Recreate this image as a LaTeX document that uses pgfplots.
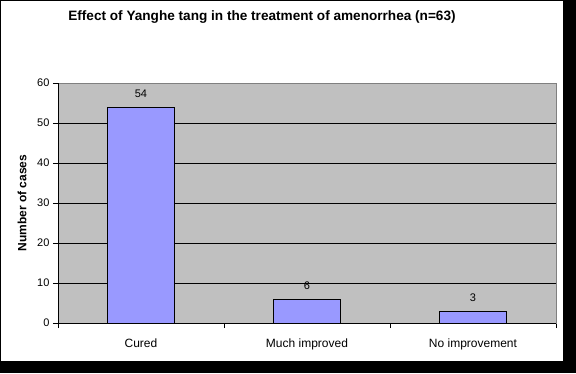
\documentclass[border=0pt]{standalone}
\usepackage{fontspec}
\setmainfont{Liberation Sans}
\usepackage{pgfplots}
\pgfplotsset{compat=1.18}
\definecolor{plotgray}{RGB}{192,192,192}
\definecolor{framegray}{RGB}{128,128,128}
\definecolor{barblue}{RGB}{153,153,255}
\begin{document}
\begin{tikzpicture}
\fill[black] (0pt,0pt) rectangle (576pt,373pt);
\fill[white] (1pt,12pt) rectangle (563pt,372pt);
\path[use as bounding box] (0pt,0pt) rectangle (576pt,373pt);
\node[font=\fontsize{13.6}{16}\selectfont\bfseries] at (262pt,356pt) {Effect of Yanghe tang in the treatment of amenorrhea (n=63)};
\begin{axis}[
  at={(58pt,50pt)}, anchor=south west, scale only axis,
  width=498pt, height=240pt,
  xmin=-0.5, xmax=2.5, ymin=0, ymax=60,
  axis background/.style={fill=plotgray},
  axis line style={draw=framegray, line width=0.8pt},
  ytick={0,10,20,30,40,50,60},
  ymajorgrids, major grid style={black, line width=0.8pt},
  xtick={0,1,2},
  xticklabels={Cured, Much improved, No improvement},
  minor xtick={-0.5,0.5,1.5,2.5},
  xtick pos=bottom, ytick pos=left,
  tick align=outside,
  major tick length=5pt, minor tick length=5pt,
  xtick style={draw=none},
  minor x tick style={black, line width=0.8pt, draw=black},
  ytick style={black, line width=0.8pt},
  xticklabel style={font=\fontsize{12}{14}\selectfont, yshift=-7pt},
  yticklabel style={font=\fontsize{11}{13}\selectfont},
  /pgf/number format/assume math mode=true,
  ylabel={Number of cases},
  every axis y label/.style={at={(rel axis cs:0,0.5)}, rotate=90, anchor=center, yshift=36pt, font=\fontsize{12}{14}\selectfont\bfseries},
  ybar, bar width=67pt,
  nodes near coords,
  every node near coord/.append style={font=\fontsize{11}{13}\selectfont, yshift=6pt},
  clip=false,
]
\addplot[fill=barblue, draw=black, line width=0.8pt] coordinates {(0,54) (1,6) (2,3)};
\draw[black, line width=0.8pt] (rel axis cs:0,1) -- (rel axis cs:0,0) -- (rel axis cs:1,0);
\end{axis}
\end{tikzpicture}
\end{document}
